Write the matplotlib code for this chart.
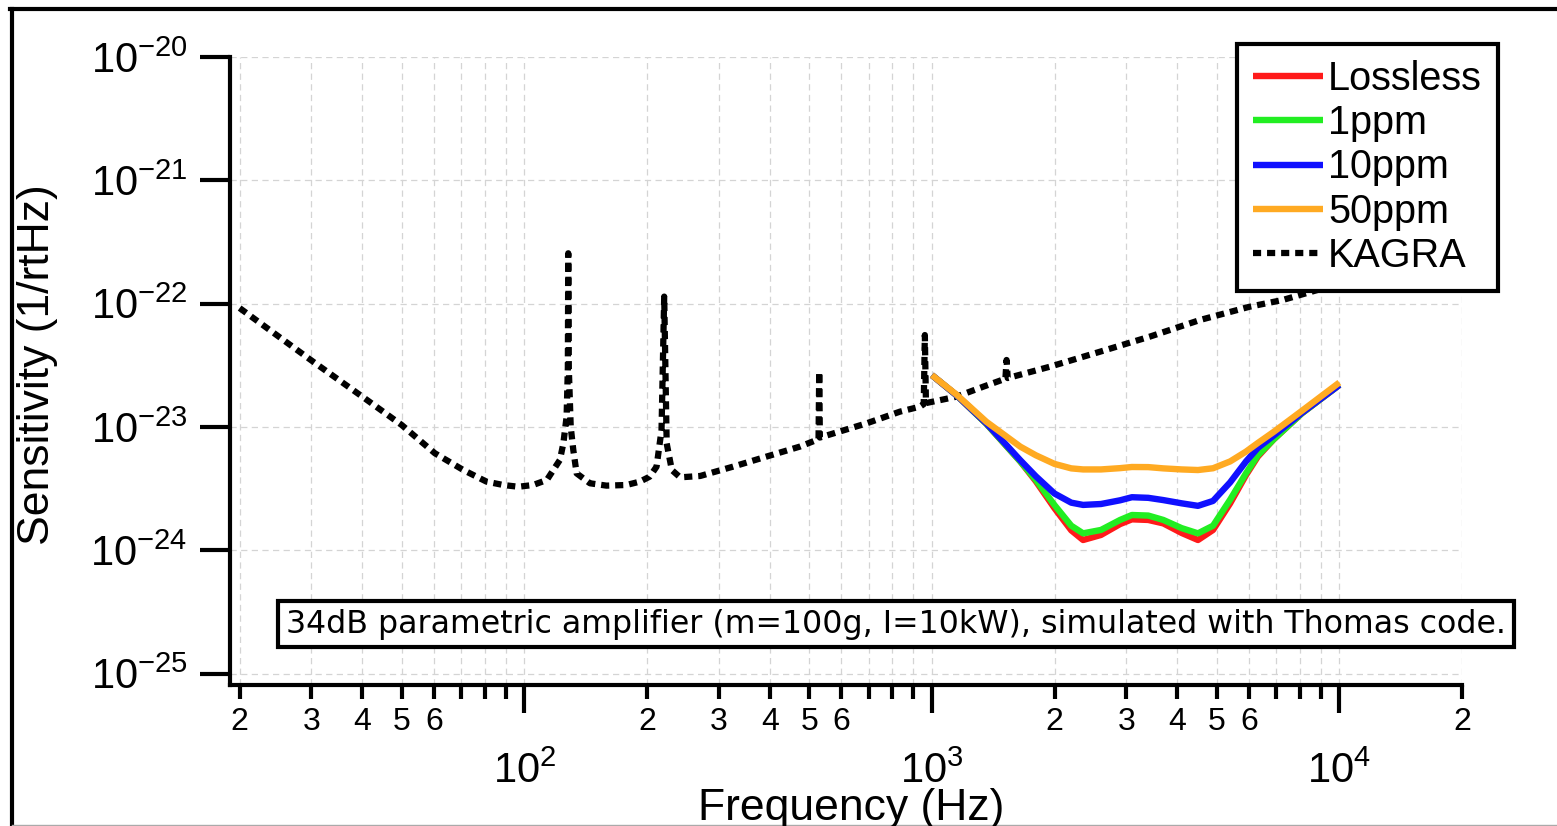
import matplotlib
matplotlib.use("Agg")
import matplotlib.pyplot as plt
from matplotlib.lines import Line2D
from matplotlib.ticker import NullLocator

plt.rcParams['font.family'] = ['Liberation Sans', 'DejaVu Sans']
plt.rcParams['mathtext.fontset'] = 'custom'
plt.rcParams['mathtext.rm'] = 'Liberation Sans'
plt.rcParams['mathtext.it'] = 'Liberation Sans:italic'
plt.rcParams['mathtext.bf'] = 'Liberation Sans:bold'
plt.rcParams['mathtext.default'] = 'regular'

# ---- KAGRA design sensitivity (Hz, 1/rtHz) ----
kagra_freq = [20, 30.3, 40.2, 50, 60.3, 70.8, 80.7, 88.7, 96.6, 105, 113.5,
              122.2, 124.6, 126.9, 127.8, 128.1, 128.5, 129.9, 131.8, 134.3,
              144.8, 159, 178, 192, 203, 211, 217, 220.3, 223.4, 230, 241,
              270, 325, 393, 474, 521, 527, 529, 531, 692, 835, 935, 955,
              961, 967, 1150, 1337, 1515, 1525, 1535, 1949, 2584, 3428,
              4547, 6026, 7261, 10000]
kagra_sens = [9.2e-23, 3.38e-23, 1.74e-23, 1.035e-23, 6.11e-24, 4.47e-24,
              3.60e-24, 3.38e-24, 3.27e-24, 3.38e-24, 3.71e-24,
              5.40e-24, 7.36e-24, 1.21e-23, 3.0e-23, 2.56e-22, 3.0e-23,
              1.0e-23, 6.5e-24, 4.2e-24,
              3.49e-24, 3.34e-24, 3.38e-24, 3.60e-24, 3.95e-24, 4.76e-24,
              9.44e-24, 1.14e-22, 7.36e-24, 4.47e-24, 3.90e-24,
              4.0e-24, 4.76e-24, 5.75e-24, 6.92e-24, 7.83e-24, 8.0e-24,
              2.81e-23, 8.2e-24, 1.07e-23, 1.33e-23, 1.46e-23, 1.53e-23,
              5.56e-23, 1.56e-23, 1.76e-23, 2.12e-23, 2.46e-23, 3.49e-23,
              2.49e-23, 3.08e-23, 4.07e-23, 5.40e-23,
              7.36e-23, 9.44e-23, 1.07e-22, 1.45e-22]

# ---- parametric amplifier results for several mirror losses ----
amp_freq = [1000, 1151, 1361, 1648, 1799, 2000, 2198, 2350, 2600, 2897,
            3097, 3396, 3698, 4102, 4498, 4898, 5395, 5902, 6310, 6902,
            8091, 10000]
lossless = [2.63e-23, 1.80e-23, 1.06e-23, 5.25e-24, 3.63e-24, 2.19e-24,
            1.45e-24, 1.21e-24, 1.33e-24, 1.63e-24, 1.78e-24, 1.76e-24,
            1.65e-24, 1.38e-24, 1.21e-24, 1.46e-24, 2.40e-24, 4.07e-24,
            5.75e-24, 7.94e-24, 1.29e-23, 2.19e-23]
loss_1ppm = [2.63e-23, 1.80e-23, 1.06e-23, 5.25e-24, 3.72e-24, 2.32e-24,
             1.58e-24, 1.37e-24, 1.46e-24, 1.76e-24, 1.93e-24, 1.91e-24,
             1.76e-24, 1.51e-24, 1.37e-24, 1.58e-24, 2.57e-24, 4.21e-24,
             5.89e-24, 7.94e-24, 1.29e-23, 2.19e-23]
loss_10ppm = [2.63e-23, 1.80e-23, 1.07e-23, 5.37e-24, 3.98e-24, 2.88e-24,
              2.43e-24, 2.33e-24, 2.37e-24, 2.54e-24, 2.69e-24, 2.66e-24,
              2.55e-24, 2.40e-24, 2.29e-24, 2.51e-24, 3.55e-24, 5.25e-24,
              6.76e-24, 8.51e-24, 1.30e-23, 2.19e-23]
loss_50ppm = [2.63e-23, 1.82e-23, 1.10e-23, 6.92e-24, 5.89e-24, 5.01e-24,
              4.61e-24, 4.52e-24, 4.52e-24, 4.63e-24, 4.73e-24, 4.72e-24,
              4.61e-24, 4.52e-24, 4.47e-24, 4.62e-24, 5.25e-24, 6.31e-24,
              7.41e-24, 9.12e-24, 1.35e-23, 2.29e-23]

series_labels = ['Lossless', '1ppm', '10ppm', '50ppm', 'KAGRA']
series_colors = ['#ff1a1a', '#22ee22', '#1010ff', '#ffaa22', 'black']

# ---- axis ticks ----
major_ticks = [1e2, 1e3, 1e4]
major_labels = [r'$10^{2}$', r'$10^{3}$', r'$10^{4}$']
minor_ticks = [20, 30, 40, 50, 60, 70, 80, 90,
               200, 300, 400, 500, 600, 700, 800, 900,
               2000, 3000, 4000, 5000, 6000, 7000, 8000, 9000, 20000]
minor_labels = ['2', '3', '4', '5', '6', '', '', '',
                '2', '3', '4', '5', '6', '', '', '',
                '2', '3', '4', '5', '6', '', '', '', '2']
y_ticks = [1e-25, 1e-24, 1e-23, 1e-22, 1e-21, 1e-20]
y_labels = [r'$10^{-25}$', r'$10^{-24}$', r'$10^{-23}$',
            r'$10^{-22}$', r'$10^{-21}$', r'$10^{-20}$']

note = "34dB parametric amplifier (m=100g, I=10kW), simulated with Thomas code."

W, H = 1557, 826
fig = plt.figure(figsize=(W / 100, H / 100), dpi=100)
ax = fig.add_axes([230 / W, 1 - 685 / H, 1232 / W, 628 / H])

ax.set_xscale('log')
ax.set_yscale('log')
ax.set_xlim(18.94, 19980)
ax.set_ylim(8.07e-26, 1e-20)

lw_curve = 4.6
dots = (0, (1.3, 0.95))
handles = []
for vals, lab, col in zip([lossless, loss_1ppm, loss_10ppm, loss_50ppm],
                          series_labels[:4], series_colors[:4]):
    h, = ax.plot(amp_freq, vals, color=col, lw=lw_curve, label=lab,
                 solid_capstyle='butt', solid_joinstyle='round', zorder=4)
    handles.append(h)
hk, = ax.plot(kagra_freq, kagra_sens, color='black', lw=4.5, linestyle=dots,
              dash_capstyle='butt', label='KAGRA', zorder=3)
handles.append(hk)

# spines
for s in ['top', 'right']:
    ax.spines[s].set_visible(False)
for s in ['left', 'bottom']:
    ax.spines[s].set_linewidth(3)

ax.set_xticks(major_ticks, major_labels)
ax.set_xticks(minor_ticks, minor_labels, minor=True)
ax.set_yticks(y_ticks, y_labels)
ax.yaxis.set_minor_locator(NullLocator())

ax.tick_params(axis='y', which='major', direction='out', length=21.6,
               width=3, pad=9, labelsize=30)
ax.tick_params(axis='x', which='major', direction='out', length=20,
               width=3, pad=28, labelsize=30)
ax.tick_params(axis='x', which='minor', direction='out', length=10,
               width=3, pad=6, labelsize=23)

grid_kw = dict(color='#d4d4d4', linestyle=(0, (5, 3.5)), linewidth=0.9)
ax.xaxis.grid(True, which='both', **grid_kw)
ax.yaxis.grid(True, which='major', **grid_kw)
ax.set_axisbelow(True)

fig.text(38 / W, 1 - 365 / H, 'Sensitivity (1/rtHz)', rotation=90,
         ha='center', va='center', fontsize=32)
fig.text(851 / W, 1 - 820 / H, 'Frequency (Hz)', ha='center',
         va='baseline', fontsize=32)

leg = fig.legend(handles, series_labels, loc='upper left',
                 bbox_to_anchor=(1237 / W, 1 - 44 / H), fontsize=28.5,
                 handlelength=1.78, handletextpad=0.12, borderpad=0.4,
                 labelspacing=0.16, borderaxespad=0, fancybox=False,
                 framealpha=1)
leg.get_frame().set_edgecolor('black')
leg.get_frame().set_linewidth(3)

fig.text(896 / W, 1 - 624 / H, note, ha='center', va='center',
         fontsize=22.8, family=['DejaVu Sans'], zorder=6,
         bbox=dict(boxstyle='square,pad=0.25', fc='white', ec='black', lw=3))

# outer frame
fig.add_artist(Line2D([11.5 / W, 11.5 / W], [0, 1 - 9 / H], color='black',
                      lw=3, transform=fig.transFigure))
fig.add_artist(Line2D([10 / W, 1], [1 - 9 / H, 1 - 9 / H], color='black',
                      lw=3, transform=fig.transFigure))
fig.add_artist(Line2D([12 / W, 1], [1.2 / H, 1.2 / H], color='#aaaaaa',
                      lw=1, transform=fig.transFigure))

fig.savefig('out.png', dpi=100)
